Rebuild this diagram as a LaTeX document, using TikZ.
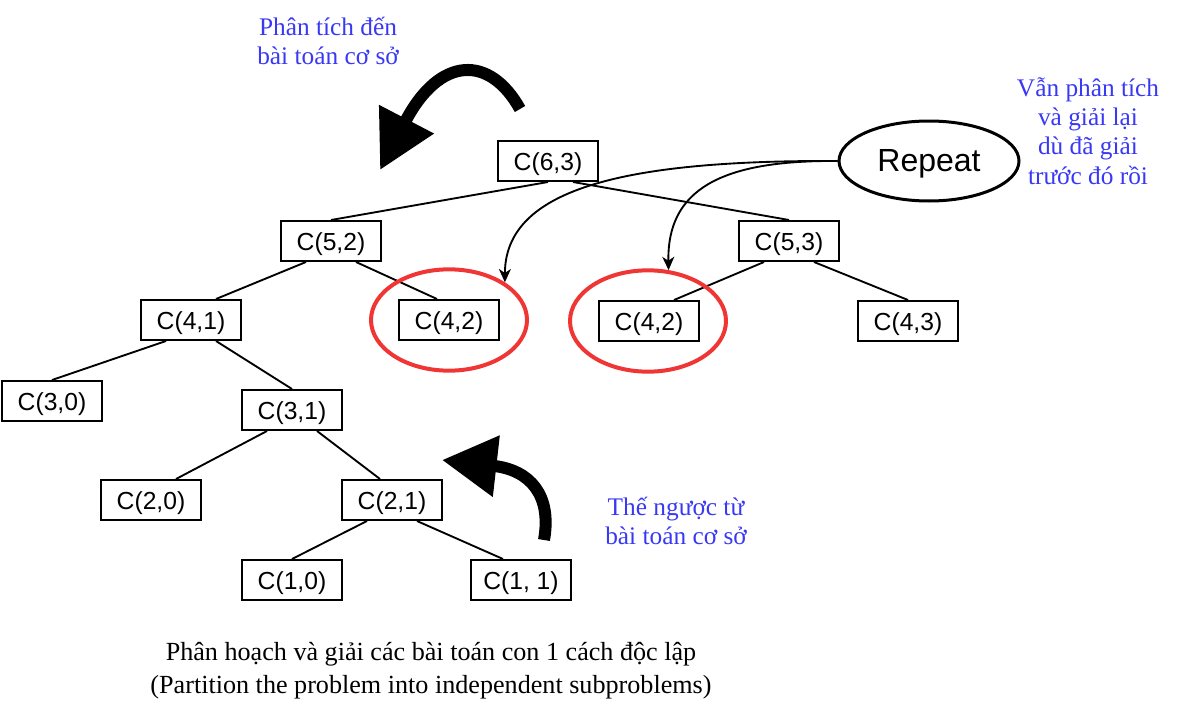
\documentclass[tikz,border=0pt]{standalone}
\usepackage{fontspec}
\setmainfont{Liberation Serif}
\setsansfont{Liberation Sans}
\usetikzlibrary{arrows.meta,shapes.geometric,calc}
\definecolor{cblue}{HTML}{3838F5}
\definecolor{cred}{HTML}{F03535}

\begin{document}
\begin{tikzpicture}[
  x=0.75pt, y=-0.75pt,
  sub/.style={draw, line width=1.5pt, minimum width=75pt, minimum height=30pt,
              inner sep=0pt, text height=17.6pt, text depth=3.9pt,
              font=\sffamily\fontsize{18.5}{21}\selectfont},
  again/.style={draw=cred, ellipse, line width=3pt, minimum width=117pt, minimum height=76pt},
  repeatbox/.style={draw, ellipse, line width=2.25pt, minimum width=135pt, minimum height=60pt,
                    inner sep=0pt, text height=21.2pt, text depth=5pt,
                    font=\sffamily\fontsize{24}{27}\selectfont},
  edge/.style={line width=1.4pt},
  link/.style={-{Stealth[length=10pt, width=9pt, inset=3pt]}, line width=1.4pt},
  bigarrow/.style={line width=9pt},
  note/.style={text=cblue, align=center, font=\fontsize{19}{22}\selectfont},
  caption/.style={align=center, font=\fontsize{19.6}{24.5}\selectfont},
]
\useasboundingbox (0,0) rectangle (1180,710);
% ---------- the recursion tree ----------
\foreach \n/\x/\y/\t in {c63/548/161/{C(6,3)}, c52/331/241/{C(5,2)}, c53/789/241/{C(5,3)},
    c41/191/320/{C(4,1)}, c42a/449/320/{C(4,2)}, c42b/649/321/{C(4,2)}, c43/908/321/{C(4,3)},
    c30/52/401/{C(3,0)}, c31/292/410/{C(3,1)}, c20/151/500/{C(2,0)}, c21/392/500/{C(2,1)},
    c10/292/580/{C(1,0)}, c11/521/580/{C(1, 1)}}{
  \node[sub] (\n) at (\x,\y) {\t};
}
\foreach \a/\da/\b/\db in {c63/0/c52/0, c63/25/c53/0, c52/-25/c41/25, c52/25/c42a/-12,
    c53/-25/c42b/25, c53/25/c43/0, c41/-25/c30/0, c41/25/c31/0, c31/-25/c20/25,
    c31/25/c21/-12, c21/-25/c10/0, c21/25/c11/-18}{
  \draw[edge] ($(\a.south)+(\da,0)$) -- ($(\b.north)+(\db,0)$);
}
% ---------- repeated subproblems ----------
\node[again] (r1) at (449,320) {};
\node[again] (r2) at (648,321) {};
\node[repeatbox] (rep) at (929,161) {Repeat};
\draw[link] (rep.west) .. controls (620,160) and (505,190) .. (r1.34);
\draw[link] (rep.west) .. controls (720,160) and (667,190) .. (r2.68);
% ---------- big arrows ----------
\draw[bigarrow, -{Triangle[length=43pt, width=44pt]}] (520,109) .. controls (490,55) and (440,55) .. (380,170);
\draw[bigarrow, -{Triangle[length=41pt, width=44pt]}] (544,540) .. controls (552,495) and (530,470) .. (442,460);
% ---------- labels ----------
\node[note] (down) at (328,41) {Phân tích đến\\bài toán cơ sở};
\node[note] (redo) at (1088,131) {Vẫn phân tích\\và giải lại\\dù đã giải\\trước đó rồi};
\node[note] (up) at (676,521) {Thế ngược từ\\bài toán cơ sở};
\node[caption] (cap) at (431,671) {Phân hoạch và giải các bài toán con 1 cách độc lập\\(Partition the problem into independent subproblems)};
\end{tikzpicture}
\end{document}
